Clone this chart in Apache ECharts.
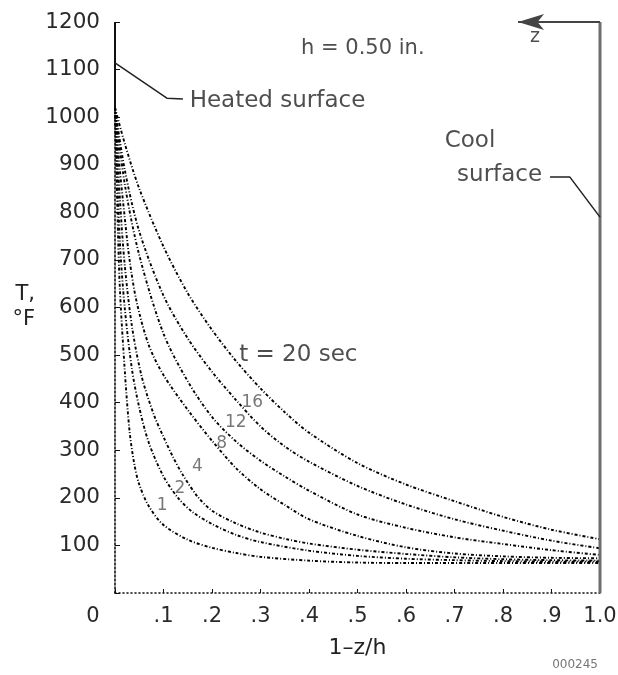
<!DOCTYPE html>
<html><head><meta charset="utf-8">
<script src="https://cdn.jsdelivr.net/npm/echarts@6/dist/echarts.min.js"></script>
<style>html,body{margin:0;padding:0;background:#fff}#c{width:618px;height:675px}</style>
</head><body><div id="c"></div>
<script>
// ---- tick labels ----
const xTickLabels = ['0', '.1', '.2', '.3', '.4', '.5', '.6', '.7', '.8', '.9', '1.0'];
const yTickValues = [0, 100, 200, 300, 400, 500, 600, 700, 800, 900, 1000, 1100, 1200];

// ---- temperature profiles T (°F) vs 1-z/h, one per time ----
const t20 = [[0,1020],[0.02,945],[0.05,850],[0.1,728],[0.15,630],[0.2,553],[0.25,487],[0.3,430],[0.35,380],[0.4,337],[0.5,273],[0.6,228],[0.7,193],[0.8,160],[0.9,133],[1.0,113]];
const t16 = [[0,1020],[0.02,890],[0.05,760],[0.1,625],[0.15,535],[0.2,465],[0.25,405],[0.3,350],[0.35,308],[0.4,276],[0.5,225],[0.6,186],[0.7,155],[0.8,131],[0.9,110],[1.0,94]];
const t12 = [[0,1020],[0.02,860],[0.05,710],[0.1,545],[0.15,445],[0.2,370],[0.25,318],[0.3,278],[0.35,245],[0.4,215],[0.5,165],[0.6,137],[0.7,117],[0.8,103],[0.9,90],[1.0,80]];
const t8  = [[0,1020],[0.01,890],[0.02,790],[0.03,700],[0.045,610],[0.07,520],[0.1,458],[0.15,385],[0.2,320],[0.25,262],[0.3,218],[0.35,185],[0.4,155],[0.5,120],[0.6,96],[0.7,83],[0.8,77],[0.9,74],[1.0,73]];
const t4  = [[0,1020],[0.01,830],[0.02,690],[0.035,560],[0.055,455],[0.08,375],[0.1,328],[0.12,285],[0.14,248],[0.17,203],[0.2,173],[0.25,146],[0.3,127],[0.35,114],[0.4,104],[0.5,91],[0.6,82],[0.7,75],[0.8,71],[0.9,69],[1.0,68]];
const t2  = [[0,1020],[0.01,740],[0.02,600],[0.035,470],[0.05,390],[0.07,315],[0.1,245],[0.13,200],[0.16,170],[0.2,145],[0.25,122],[0.3,107],[0.4,89],[0.5,78],[0.6,72],[0.7,69],[0.8,67],[0.9,66],[1.0,66]];
const t1  = [[0,1020],[0.005,800],[0.01,640],[0.02,470],[0.03,340],[0.04,270],[0.05,228],[0.07,182],[0.1,143],[0.15,112],[0.2,95],[0.25,84],[0.3,76],[0.4,68],[0.5,64],[0.6,63],[0.8,63],[1.0,63]];

// ---- surfaces and leaders ----
const heatedSurface = [[0,1020],[0,1200]];
const coolSurface = [[1,0],[1,1200]];
const zArrow = [[1,1200],[0.831,1200]];
const heatedLeader = [[0,1114],[0.107,1040],[0.14,1038]];
const coolLeader = [[0.897,874],[0.938,874],[1.0,790]];

// ---- text annotations (data coordinates) ----
const notes = [
  {text:'h = 0.50 in.', x:0.511, T:1145},
  {text:'Heated surface', x:0.335, T:1034},
  {text:'Cool', x:0.732, T:950},
  {text:'surface', x:0.793, T:878},
  {text:'t = 20 sec', x:0.378, T:500}
];
const zNote = [{text:'z', x:0.866, T:1169}];
const curveNumbers = [
  {text:'16', x:0.283, T:401},
  {text:'12', x:0.249, T:359},
  {text:'8', x:0.220, T:315},
  {text:'4', x:0.170, T:265},
  {text:'2', x:0.134, T:219},
  {text:'1', x:0.097, T:183}
];

const FONT = 'DejaVu Sans';
const curveStyle = {color:'#000', width:1.9, type:[3,2,1,2]};

function curve(name, data) {
  return {type:'line', name, data, symbol:'none', smooth:0.3,
          lineStyle:curveStyle, silent:true, z:3};
}
function textSeries(items, sizeFn, color) {
  return {type:'scatter', symbolSize:1, itemStyle:{color:'transparent'}, silent:true, z:6,
    data: items.map(a => ({name:a.text, value:[a.x, a.T], label:{fontSize:sizeFn(a.text)}})),
    label:{show:true, position:'inside', formatter:'{b}', color, fontFamily:FONT}};
}

const chart = echarts.init(document.getElementById('c'), null, {renderer:'canvas'});
chart.setOption({
  animation:false,
  backgroundColor:'#fff',
  grid:{left:115, right:18, top:22, bottom:82, outerBoundsMode:'none', containLabel:false},
  xAxis:{type:'value', min:0, max:1, interval:0.1,
    name:'1\u2013z/h', nameLocation:'middle', nameGap:44,
    nameTextStyle:{fontSize:22, color:'#222', fontFamily:FONT},
    axisLine:{show:true, lineStyle:{color:'#111', width:1.6, type:[1,3]}},
    axisTick:{show:true, inside:true, length:4, lineStyle:{color:'#111'}},
    splitLine:{show:false},
    axisLabel:{margin:13, fontSize:21, color:'#2a2a2a', fontFamily:FONT,
      formatter:(v) => { const i = Math.round(v*10); return i === 0 ? '{o|' + xTickLabels[0] + '}' : xTickLabels[i]; },
      rich:{o:{padding:[0,44,0,0], fontSize:21, color:'#2a2a2a', fontFamily:FONT}}}
  },
  yAxis:{type:'value', min:0, max:1200, interval:100,
    name:'T,\n\u00B0F', nameLocation:'middle', nameRotate:0, nameGap:80,
    nameTextStyle:{fontSize:21, lineHeight:25, color:'#222', fontFamily:FONT, align:'right'},
    axisLine:{show:true, lineStyle:{color:'#111', width:1.6, type:[2,2]}},
    axisTick:{show:true, inside:true, length:5, lineStyle:{color:'#111'}},
    splitLine:{show:false},
    axisLabel:{margin:15, fontSize:21.5, color:'#2a2a2a', fontFamily:FONT,
      formatter:(v) => (v === 0 || yTickValues.indexOf(v) < 0) ? '' : String(v)}
  },
  graphic:[{type:'text', right:20, top:659, silent:true,
    style:{text:'000245', fontSize:12, fill:'#777', fontFamily:FONT}}],
  series:[
    curve('20 sec', t20), curve('16 sec', t16), curve('12 sec', t12), curve('8 sec', t8),
    curve('4 sec', t4), curve('2 sec', t2), curve('1 sec', t1),
    {type:'line', data:heatedSurface, symbol:'none', silent:true, lineStyle:{color:'#111', width:2}, z:4},
    {type:'line', data:coolSurface, symbol:'none', silent:true, lineStyle:{color:'#6e6e6e', width:3}, z:4,
      markLine:{silent:true, symbol:['none','arrow'], symbolSize:[12,26], label:{show:false},
        lineStyle:{color:'#444', width:2, type:'solid'},
        data:[[{coord:zArrow[0]},{coord:zArrow[1]}]]}},
    {type:'line', data:heatedLeader, symbol:'none', silent:true, lineStyle:{color:'#222', width:1.5}, z:4},
    {type:'line', data:coolLeader, symbol:'none', silent:true, lineStyle:{color:'#222', width:1.5}, z:4},
    textSeries(notes, s => s.startsWith('h =') ? 21 : 23, '#222'),
    textSeries(zNote, () => 19, '#222'),
    textSeries(curveNumbers, () => 17, '#555')
  ]
});
</script></body></html>
